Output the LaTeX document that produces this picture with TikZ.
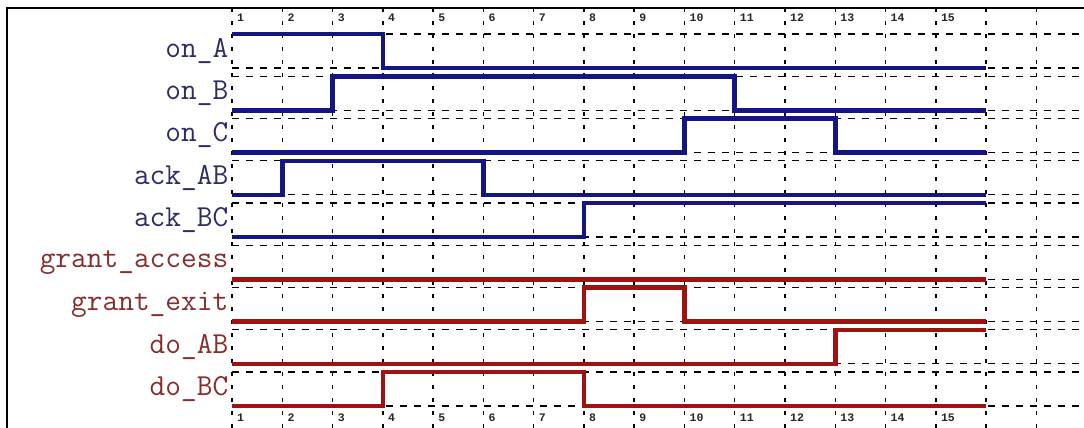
\documentclass[tikz,border=0pt]{standalone}
\usepackage{xcolor}
\usepackage{fontspec}
\newfontfamily\ticknumfont{Liberation Mono}
\usepackage{tikz}
\definecolor{wireblue}{RGB}{20,20,130}
\definecolor{wirered}{RGB}{160,18,18}
\definecolor{nameblue}{RGB}{45,45,100}
\definecolor{namered}{RGB}{135,45,45}
\tikzstyle{bluewave} = [line width=4.5pt, 
draw=wireblue]
\tikzstyle{redwave} = [line width=4.5pt, 
draw=wirered]
\tikzstyle{gridv} = [line width=1.5pt, 
dash pattern=on 4pt off 9pt]
\tikzstyle{gridh} = [line width=1.3pt, 
dash pattern=on 7pt off 7pt]
\tikzstyle{bluename} = [anchor=east, 
inner sep=0pt, 
text=nameblue, 
font=\ttfamily\fontsize{30.5}{30.5}\selectfont]
\tikzstyle{redname} = [anchor=east, 
inner sep=0pt, 
text=namered, 
font=\ttfamily\fontsize{30.5}{30.5}\selectfont]
\tikzstyle{ticknum} = [anchor=west, 
inner sep=0pt, 
text=black!85, 
font=\ticknumfont\bfseries\fontsize{11.5}{11.5}\selectfont]

\begin{document}
\begin{tikzpicture}[x=1pt, y=-1pt]

        \useasboundingbox (0,0) rectangle (1084,428);
        \fill [white] (0,0) rectangle (1084,428);
        \draw [line width=1.5pt] (7,428) -- (7,8) -- (1084,8);

        \begin{scope}[xshift=181.73pt, x=50.27pt]

        % grid
        \foreach \t in {1,...,17}
            \draw [gridv] (\t,8) -- (\t,428);
        \foreach \y in {34,68,76.25,110.25,118.5,152.5,160.75,194.75,203,237,
                        245.25,279.25,287.5,321.5,329.75,363.75,372,406}
            \draw [gridh] (1,\y) -- (17.95,\y);
        \foreach \t in {1,...,15} {
            \node (top\t) [ticknum] at (\t+0.1,18) {\t};
            \node (bot\t) [ticknum] at (\t+0.1,418) {\t};
        }

        % signal names
        \node (onA) [bluename] at (0.93,51) {on\_A};
        \node (onB) [bluename] at (0.93,93.25) {on\_B};
        \node (onC) [bluename] at (0.93,135.5) {on\_C};
        \node (ackAB) [bluename] at (0.93,177.75) {ack\_AB};
        \node (ackBC) [bluename] at (0.93,220) {ack\_BC};
        \node (gaccess) [redname] at (0.93,262.25) {grant\_access};
        \node (gexit) [redname] at (0.93,304.5) {grant\_exit};
        \node (doAB) [redname] at (0.93,346.75) {do\_AB};
        \node (doBC) [redname] at (0.93,389) {do\_BC};

        % waveforms
        \draw [bluewave] (1,34) -- (4,34) -- (4,68) -- (16,68);
        \draw [bluewave] (1,110.25) -- (3,110.25) -- (3,76.25) -- (11,76.25)
            -- (11,110.25) -- (16,110.25);
        \draw [bluewave] (1,152.5) -- (10,152.5) -- (10,118.5) -- (13,118.5)
            -- (13,152.5) -- (16,152.5);
        \draw [bluewave] (1,194.75) -- (2,194.75) -- (2,160.75) -- (6,160.75)
            -- (6,194.75) -- (16,194.75);
        \draw [bluewave] (1,237) -- (8,237) -- (8,203) -- (16,203);
        \draw [redwave] (1,279.25) -- (16,279.25);
        \draw [redwave] (1,321.5) -- (8,321.5) -- (8,287.5) -- (10,287.5)
            -- (10,321.5) -- (16,321.5);
        \draw [redwave] (1,363.75) -- (13,363.75) -- (13,329.75) -- (16,329.75);
        \draw [redwave] (1,406) -- (4,406) -- (4,372) -- (8,372)
            -- (8,406) -- (16,406);

        \end{scope}

\end{tikzpicture}
\end{document}
